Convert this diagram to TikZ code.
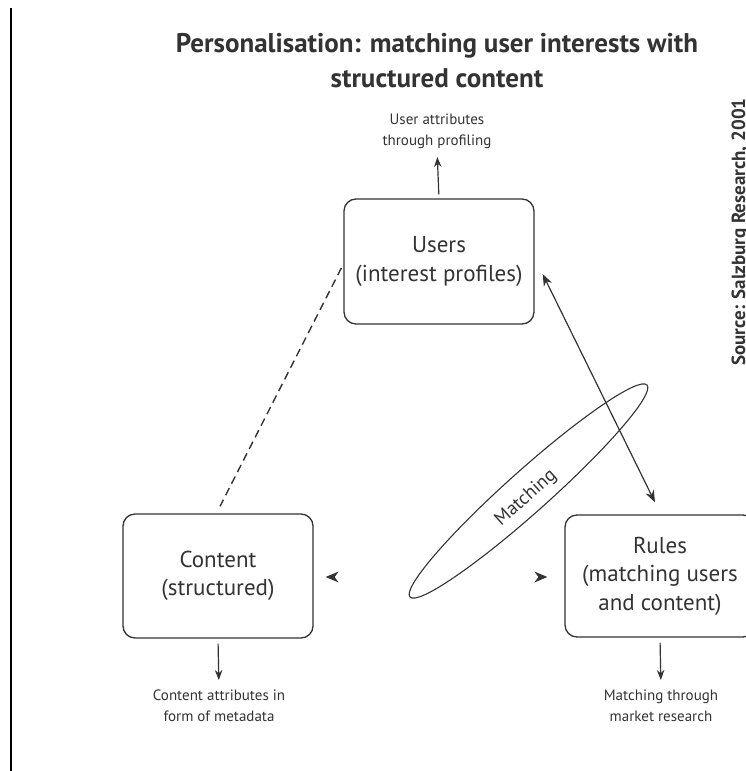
\documentclass[tikz,border=0pt]{standalone}
\usepackage{fontspec}
\setmainfont{PT Sans}
\usetikzlibrary{arrows.meta,shapes.geometric,calc}
\definecolor{inkgray}{HTML}{333333}
\begin{document}
\begin{tikzpicture}[x=1pt,y=-1pt,
  ink/.style={draw=inkgray, line width=1.3pt},
  box/.style={ink, rounded corners=12pt, minimum width=190pt, inner sep=0pt,
    align=center, text=inkgray, font=\fontsize{23}{28.5}\selectfont},
  note/.style={align=center, text=inkgray, inner sep=0pt,
    font=\fontsize{15}{21}\selectfont},
  pointer/.style={draw=inkgray, line width=1.2pt, -{Stealth[length=10pt,width=7.5pt]}},
  both/.style={draw=inkgray, line width=1.2pt,
    {Stealth[length=12pt,width=9pt]}-{Stealth[length=12pt,width=9pt]}},
]
\useasboundingbox (0,0) rectangle (745,771);

% margin rule on the left
\draw[line width=1.6pt, black] (11,8) -- (11,771);

% heading
\node[font=\bfseries\fontsize{27}{35}\selectfont, align=center, text=inkgray]
  (title) at (437,61) {Personalisation: matching user interests with\\structured content};

% source credit, set vertically at the right edge
\node[rotate=90, anchor=base, font=\bfseries\fontsize{19}{21}\selectfont, text=inkgray]
  (source) at (745,232) {Source: Salzburg Research, 2001};

% the three main boxes
\node[box, minimum height=125pt] (users) at (439,261.5) {Users\\(interest profiles)};
\node[box, minimum height=124pt] (content) at (218,576) {Content\\(structured)};
\node[box, minimum height=122pt] (rules) at (660,576) {Rules\\(matching users\\and content)};

% attribute notes
\node[note, anchor=south] (uattr) at (437,149) {User attributes\\through profiling};
\node[note, anchor=north] (cattr) at (219,690) {Content attributes in\\form of metadata};
\node[note, anchor=north] (rattr) at (661,690) {Matching through\\market research};

\draw[pointer, shorten <=4pt, shorten >=8pt] (users.north) -- (uattr.south);
\draw[pointer, shorten <=5pt, shorten >=10pt] (content.south) -- (cattr.north);
\draw[pointer, shorten <=5pt, shorten >=10pt] (rules.south) -- (rattr.north);

% link between users and content
\coordinate (udash) at ($(users.west)+(-2,6.5)$);
\coordinate (cdash) at ($(content.north)+(2,-7)$);
\draw[draw=inkgray, line width=1.4pt, dash pattern=on 8pt off 5pt] (udash) -- (cdash);

% two-way matching between users and rules
\coordinate (uend) at ($(users.east)+(8,12.5)$);
\coordinate (rend) at ($(rules.north)+(-5,-12)$);
\draw[both] (uend) -- (rend);

% matching ellipse
\node[draw=inkgray, line width=1.1pt, ellipse, rotate=41.8, minimum width=318pt,
  minimum height=42pt, inner sep=0pt] (zone) at (528.5,491) {};
\node[rotate=41.8, text=inkgray, font=\fontsize{19}{21}\selectfont] (zonelabel)
  at (526,498) {Matching};

% loose arrowheads pointing at content and rules
\coordinate (ctip) at ($(content.east)+(12,1)$);
\coordinate (rtip) at ($(rules.west)+(-17,1)$);
\fill[inkgray] (ctip) -- ++(13,-5.5) -- ++(-4,5.5) -- ++(4,5.5) -- cycle;
\fill[inkgray] (rtip) -- ++(-13,-5.5) -- ++(4,5.5) -- ++(-4,5.5) -- cycle;
\end{tikzpicture}
\end{document}
